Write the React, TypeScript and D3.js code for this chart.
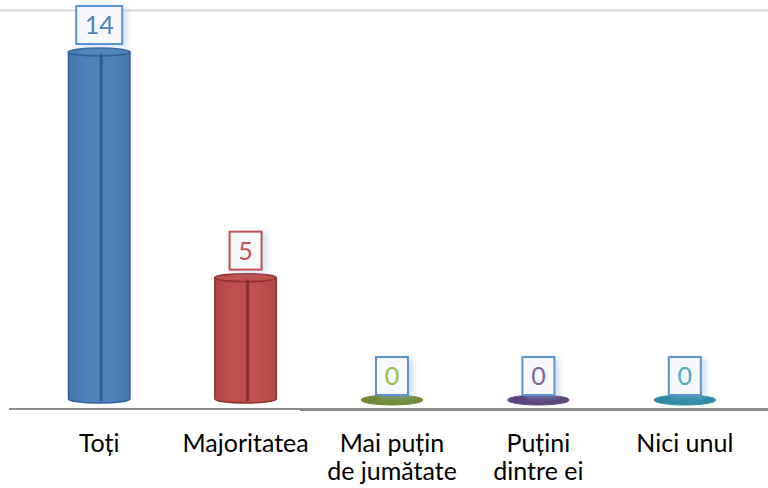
import React from "react";
import * as d3 from "d3";

const categories = ["Toți", "Majoritatea", "Mai puțin de jumătate", "Puțini dintre ei", "Nici unul"];
const categoryLines = [["Toți"], ["Majoritatea"], ["Mai puțin", "de jumătate"], ["Puțini", "dintre ei"], ["Nici unul"]];
const values = [14, 5, 0, 0, 0];
const fills = ["#4f81bd", "#c0504d", "#9bbb59", "#8064a2", "#4bacc6"];
const darks = ["#2f5f9a", "#8f2f2c", "#6f8a36", "#5a437a", "#2e8aa3"];
const boxBorders = ["#5b93d3", "#c0504d", "#5b93d3", "#5b93d3", "#5b93d3"];

const W = 768;
const H = 488;

export default function App() {
  const x = d3.scaleBand().domain(categories).range([26, 758]).paddingInner(0).paddingOuter(0);
  const y = d3.scaleLinear().domain([0, 14]).range([403, 52]);
  const bw = x.bandwidth() * 0.42;
  const ry = 4;
  const font = "Lato, 'Open Sans', sans-serif";
  return (
    <svg width={W} height={H} style={{ position: "absolute", left: 0, top: 0, display: "block" }}>
      <defs>
        <filter id="sh" x="-30%" y="-30%" width="180%" height="160%">
          <feDropShadow dx="4" dy="2" stdDeviation="3" floodColor="#9bb7dd" floodOpacity="0.45" />
        </filter>
        {fills.map((f, i) => (
          <linearGradient key={i} id={`g${i}`} x1="0" x2="1" y1="0" y2="0">
            <stop offset="0" stopColor={d3.color(f)!.darker(0.3).toString()} />
            <stop offset="0.3" stopColor={f} />
            <stop offset="0.7" stopColor={f} />
            <stop offset="1" stopColor={d3.color(f)!.darker(0.3).toString()} />
          </linearGradient>
        ))}
      </defs>
      <rect x={0} y={0} width={W} height={H} fill="#fff" />
      <line x1={0} x2={W} y1={10.5} y2={10.5} stroke="#d9d9d9" strokeWidth={2} />
      <line x1={9} x2={W} y1={409} y2={409} stroke="#8c8c8c" strokeWidth={2} />
      <line x1={300} x2={W} y1={409.5} y2={409.5} stroke="#8c8c8c" strokeWidth={3} />
      {categories.map((c, i) => {
        const cx = (x(c) as number) + x.bandwidth() / 2;
        const v = values[i];
        const top = y(v);
        const base = y(0);
        const label = String(v);
        const boxW = label.length > 1 ? 46 : 32;
        const boxH = 38;
        const boxBottom = top - 8;
        return (
          <g key={c}>
            {v > 0 ? (
              <g>
                <path
                  d={`M${cx - bw / 2},${top} L${cx - bw / 2},${base - ry} A${bw / 2},${ry} 0 0 0 ${cx + bw / 2},${base - ry} L${cx + bw / 2},${top} Z`}
                  fill={`url(#g${i})`}
                  stroke={darks[i]}
                  strokeWidth={1.5}
                />
                <ellipse cx={cx} cy={top} rx={bw / 2} ry={ry} fill={fills[i]} stroke={darks[i]} strokeWidth={1.5} />
                <line x1={cx + 2} x2={cx + 2} y1={top + 2} y2={base - 2} stroke={darks[i]} strokeWidth={3} />
              </g>
            ) : (
              <ellipse cx={cx} cy={base - 3} rx={bw / 2} ry={5} fill={darks[i]} stroke={darks[i]} strokeWidth={1} />
            )}
            <rect
              x={cx - boxW / 2}
              y={boxBottom - boxH}
              width={boxW}
              height={boxH}
              fill="#f7f9fc"
              stroke={boxBorders[i]}
              strokeWidth={2}
              filter="url(#sh)"
            />
            <text
              x={cx}
              y={boxBottom - boxH / 2 + 9}
              textAnchor="middle"
              fontFamily={font}
              fontSize={25}
              fill={fills[i]}
            >
              {label}
            </text>
            {categoryLines[i].map((ln, j) => (
              <text
                key={j}
                x={cx}
                y={452 + j * 28}
                textAnchor="middle"
                fontFamily={font}
                fontSize={25}
                fill="#000"
              >
                {ln}
              </text>
            ))}
          </g>
        );
      })}
    </svg>
  );
}
